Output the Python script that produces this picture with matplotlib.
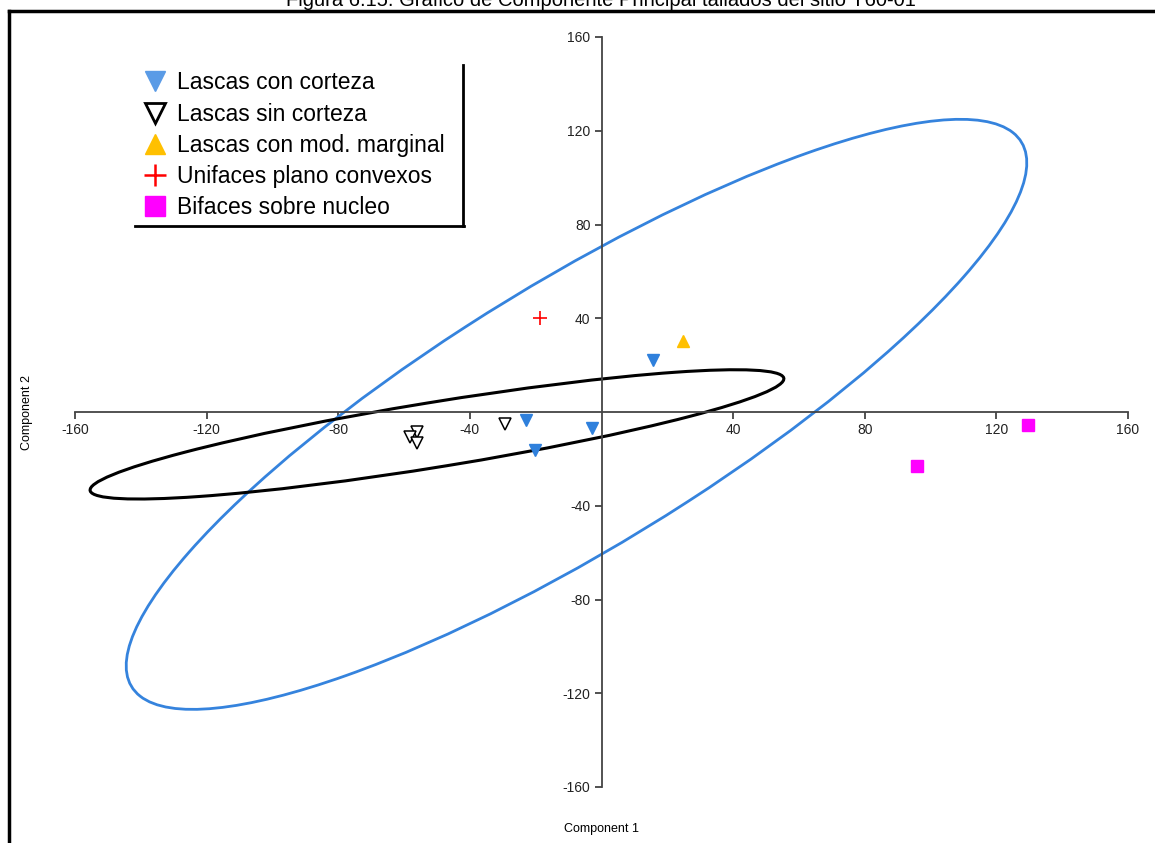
import matplotlib
matplotlib.use("Agg")
import matplotlib.pyplot as plt
from matplotlib.patches import Ellipse
from matplotlib.lines import Line2D

plt.rcParams['font.family'] = ['Liberation Sans', 'DejaVu Sans']

# Component scores by group
con_corteza_x = [15.7, -23.0, -20.2, -2.9]
con_corteza_y = [22.2, -3.4, -16.2, -6.8]
sin_corteza_x = [-29.3, -56.1, -58.2, -56.0]
sin_corteza_y = [-5.1, -8.5, -10.7, -13.2]
mod_marginal_x = [24.8]
mod_marginal_y = [30.3]
unifaces_x = [-18.7]
unifaces_y = [40.1]
bifaces_x = [129.6, 95.9]
bifaces_y = [-5.5, -23.0]

# 95% ellipses: centre, full axes lengths, rotation (deg)
ell_con_corteza = dict(xy=(-7.6, -1.0), width=358.0, height=100.6, angle=42.2)
ell_sin_corteza = dict(xy=(-50.0, -9.55), width=216.2, height=27.4, angle=12.9)

ticks = [-160, -120, -80, -40, 40, 80, 120, 160]
tick_labels = [str(t) for t in ticks]

W, H = 1155, 843
fig = plt.figure(figsize=(W / 100, H / 100), dpi=100)
ax = fig.add_axes([75 / W, 1 - 787 / H, 1053 / W, 750 / H])
ax.set_xlim(-160, 160)
ax.set_ylim(-160, 160)

axis_col = '#444444'
for side in ['top', 'right']:
    ax.spines[side].set_visible(False)
ax.spines['left'].set_position(('data', 0))
ax.spines['bottom'].set_position(('data', 0))
for side in ['left', 'bottom']:
    ax.spines[side].set_color(axis_col)
    ax.spines[side].set_linewidth(1.3)
ax.set_xticks(ticks)
ax.set_xticklabels(tick_labels)
ax.set_yticks(ticks)
ax.set_yticklabels(tick_labels)
ax.tick_params(axis='both', direction='out', length=5, width=1.1, color='#222222',
               labelsize=10, labelcolor='#222222', pad=3)
ax.set_facecolor('none')

blue = '#2f80dc'
ax.add_patch(Ellipse(**ell_con_corteza, fill=False, edgecolor='#3583dd', lw=2.0, zorder=2))
ax.add_patch(Ellipse(**ell_sin_corteza, fill=False, edgecolor='black', lw=2.2, zorder=2))

ax.plot(con_corteza_x, con_corteza_y, 'v', ls='none', ms=8.5, color=blue, mec=blue,
        label='Lascas con corteza', zorder=4)
ax.plot(sin_corteza_x, sin_corteza_y, 'v', ls='none', ms=8.5, mfc='white', mec='black',
        mew=1.1, label='Lascas sin corteza', zorder=4)
ax.plot(mod_marginal_x, mod_marginal_y, '^', ls='none', ms=8.5, color='#ffc000',
        label='Lascas con mod. marginal', zorder=4)
ax.plot(unifaces_x, unifaces_y, '+', ls='none', ms=10, mew=1.2, color='#ff0000',
        label='Unifaces plano convexos', zorder=4)
ax.plot(bifaces_x, bifaces_y, 's', ls='none', ms=8, color='#ff00ff',
        label='Bifaces sobre nucleo', zorder=4)

handles = [
    Line2D([], [], marker='v', ls='none', ms=15, color='#5a9be6'),
    Line2D([], [], marker='v', ls='none', ms=14, mfc='white', mec='black', mew=2),
    Line2D([], [], marker='^', ls='none', ms=15, color='#ffc000'),
    Line2D([], [], marker='+', ls='none', ms=16, mew=1.8, color='#ff0000'),
    Line2D([], [], marker='s', ls='none', ms=14, color='#ff00ff'),
]
labels = ['Lascas con corteza', 'Lascas sin corteza', 'Lascas con mod. marginal',
          'Unifaces plano convexos', 'Bifaces sobre nucleo']
leg = fig.legend(handles, labels, loc='upper left',
                 bbox_to_anchor=(133 / W, 1 - 60 / H), frameon=False,
                 fontsize=16.5, handlelength=0.9, handletextpad=0.5,
                 labelspacing=0.36, borderpad=0.0)

fig.text(601 / W, 1 - 829 / H, 'Component 1', ha='center', va='center', fontsize=9)
fig.text(27 / W, 1 - 412 / H, 'Component 2', ha='center', va='center',
         rotation=90, fontsize=9)

# Legend shadow edges (right and bottom)
fig.add_artist(Line2D([463 / W, 463 / W], [1 - 65 / H, 1 - 226 / H], color='black',
                      lw=2.0, transform=fig.transFigure))
fig.add_artist(Line2D([135 / W, 464 / W], [1 - 226 / H, 1 - 226 / H], color='black',
                      lw=2.0, transform=fig.transFigure))

# Page frame: top and left borders
fig.add_artist(Line2D([8.5 / W, 1.0], [1 - 10.5 / H, 1 - 10.5 / H], color='black',
                      lw=2.5, transform=fig.transFigure))
fig.add_artist(Line2D([8.5 / W, 8.5 / W], [1 - 10.5 / H, 0.0], color='black',
                      lw=2.5, transform=fig.transFigure))

fig.text(601 / W, 1 - 6 / H,
         'Figura 6.15. Gráfico de Componente Principal tallados del sitio Y60-01',
         ha='center', va='baseline', fontsize=14.5, color='black')

fig.savefig('out.png', dpi=100)
